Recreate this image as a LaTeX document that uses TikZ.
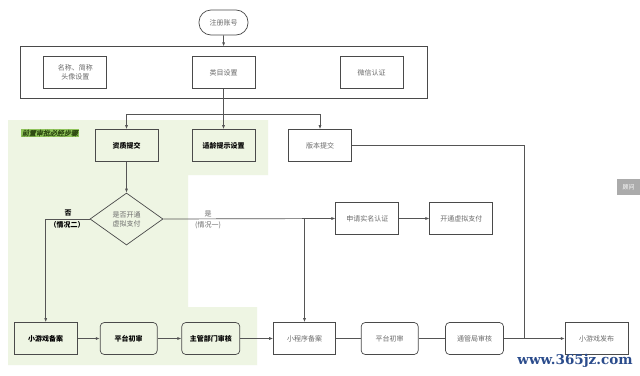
\documentclass[tikz,border=0pt]{standalone}
\usepackage{fontspec}
\newfontfamily\cjk{Noto Sans CJK SC}
\newfontfamily\cjkit[FakeSlant=0.2,FakeBold=1.2]{Noto Sans CJK SC}
\newfontfamily\wmfont{DejaVu Serif}
\usetikzlibrary{arrows.meta,shapes.geometric}
\definecolor{linec}{HTML}{555555}
\definecolor{boxc}{HTML}{4A4A4A}
\definecolor{txtc}{HTML}{6A6A6A}
\definecolor{greenbg}{HTML}{EEF5E3}
\definecolor{greenlab}{HTML}{8FC35A}
\definecolor{greentxt}{HTML}{2E4A12}
\definecolor{wmblue}{HTML}{2B4C8C}
\definecolor{tabgrey}{HTML}{ABABAB}
\begin{document}
\begin{tikzpicture}[x=1pt,y=-1pt,
  box/.style={draw=boxc, line width=0.7pt, minimum width=63pt, minimum height=32pt,
    inner sep=1pt, align=center, font=\cjk\fontsize{7}{9}\selectfont, text=txtc},
  boldbox/.style={box, text=black, font=\cjk\bfseries\fontsize{7}{9}\selectfont},
  rbox/.style={box, rounded corners=4pt, minimum width=57pt},
  rboldbox/.style={boldbox, rounded corners=4pt, minimum width=57pt},
  conn/.style={draw=linec, line width=0.7pt},
  arr/.style={conn, -{Latex[length=4pt,width=3pt]}},
  lab/.style={font=\cjk\fontsize{7}{8.5}\selectfont, text=txtc, inner sep=0pt},
  blab/.style={font=\cjk\bfseries\fontsize{7}{8.5}\selectfont, text=black, inner sep=0pt}]
\useasboundingbox (0,0) rectangle (640,375);
\fill[white] (0,0) rectangle (640,375);
% green region
\fill[greenbg] (8,120) -- (268,120) -- (268,175) -- (188,175) -- (188,307)
  -- (257,307) -- (257,365) -- (8,365) -- cycle;
\node[fill=greenlab, text=greentxt, inner sep=1pt, font=\cjkit\fontsize{7}{8}\selectfont] (glab) at (50,133) {前置审批必经步骤};

% top
\node[draw=boxc, line width=0.7pt, rounded corners=12pt, minimum width=49pt, minimum height=25pt,
  inner sep=1pt, font=\cjk\fontsize{7}{9}\selectfont, text=txtc] (start) at (223.5,22.5) {注册账号};
\node[draw=boxc, line width=0.7pt, minimum width=407pt, minimum height=52pt, inner sep=0pt] (reg) at (223.6,72.8) {};
\node[box] (n1) at (75.3,72.5) {名称、简称\\头像设置};
\node[box] (n2) at (223.5,72.5) {类目设置};
\node[box] (n3) at (371.7,72.5) {微信认证};
\draw[arr] (start) -- (reg.north);

% middle row
\node[boldbox] (q) at (126.5,145.5) {资质提交};
\node[boldbox] (age) at (223.5,145.5) {适龄提示设置};
\node[box] (ver) at (320,145.5) {版本提交};
\coordinate (br) at (223.5,114);
\draw[conn] (n2.south) -- (br);
\draw[arr] (br) -| (q.north);
\draw[arr] (br) -- (age.north);
\draw[arr] (br) -| (ver.north);

% diamond
\node[draw=boxc, line width=0.7pt, diamond, aspect=1.4, minimum width=73pt, minimum height=52pt,
  inner sep=0pt, align=center, font=\cjk\fontsize{7}{9}\selectfont, text=txtc] (d) at (126.5,219) {是否开通\\虚拟支付};
\draw[arr] (q.south) -- (d.north);

\node[box] (rn) at (367.3,218.5) {申请实名认证};
\node[box] (pay) at (461.3,218.5) {开通虚拟支付};

% bottom row
\node[boldbox] (b1) at (45.7,338.5) {小游戏备案};
\node[rboldbox] (p1) at (128.7,338.5) {平台初审};
\node[rboldbox, minimum width=58pt] (zg) at (210.8,338.5) {主管部门审核};
\node[box, minimum width=62pt] (m1) at (304.5,338.5) {小程序备案};
\node[rbox] (p2) at (389.7,338.5) {平台初审};
\node[rbox, minimum width=58pt] (tg) at (474.5,338.5) {通管局审核};
\node[box] (fin) at (596.7,338.5) {小游戏发布};

% branches from diamond
\draw[arr] (d.west) -| (b1.north);
\node[blab] (no1) at (68,213) {否};
\node[blab] (no2) at (67,224.5) {（情况二）};
\draw[arr] (d.east) -- (rn.west);
\node[lab] (yes1) at (208,214) {是};
\node[lab] (yes2) at (208,225.5) {(情况一)};
\coordinate (j) at (m1.north |- d.east);
\draw[arr] (j) -- (m1.north);
\draw[arr] (rn) -- (pay);

% bottom connectors
\draw[arr] (b1) -- (p1);
\draw[arr] (p1) -- (zg);
\draw[arr] (zg) -- (m1);
\draw[conn] (m1) -- (p2);
\draw[conn] (p2) -- (tg);
\draw[arr] (tg) -- (fin);
\coordinate (vj) at (524.3,338.5);
\draw[conn] (ver.east) -| (vj);

% side tab
\node[fill=tabgrey, text=white, minimum width=24pt, minimum height=16pt, inner sep=0pt,
  font=\cjk\fontsize{6}{7}\selectfont] (tab) at (628.5,187) {顾问};

% watermark
\node[text=wmblue, inner sep=0pt, font=\wmfont\bfseries\fontsize{13.5}{14}\selectfont] (wm) at (575,361) {www.365jz.com};
\end{tikzpicture}
\end{document}
